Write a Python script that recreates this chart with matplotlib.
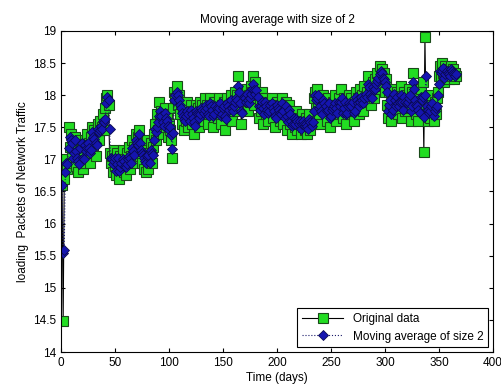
import matplotlib
matplotlib.use('Agg')
import matplotlib.pyplot as plt
import numpy as np

plt.rcParams['font.family'] = ['Liberation Sans', 'DejaVu Sans']

# daily loading values (day 1 .. 365)
traffic = [
    16.60, 14.48, 16.70, 16.90, 17.00, 16.85, 17.50, 17.20, 17.40, 17.10,
    16.95, 17.25, 17.35, 16.90, 17.15, 16.80, 17.05, 17.30, 17.20, 16.85,
    17.15, 17.30, 16.95, 17.40, 17.10, 17.25, 16.95, 17.35, 17.50, 17.20,
    17.45, 17.05, 17.40, 17.55, 17.30, 17.60, 17.45, 17.50, 17.70, 17.45,
    17.80, 17.95, 18.00, 17.85, 17.10,
    16.95, 17.05, 16.80, 17.15, 16.90, 16.75, 17.10, 16.95, 16.70, 17.05,
    16.85, 17.15, 16.80, 17.00, 16.75,
    17.10, 16.90, 17.20, 16.85, 17.05, 17.30, 16.95, 17.20, 17.40, 17.10,
    17.35, 17.45, 17.05, 17.25, 16.95,
    17.20, 16.85, 17.10, 16.80, 17.30, 16.85, 17.05, 17.25, 16.95, 17.20,
    17.40, 17.55,
    17.30, 17.70, 17.45, 17.90, 17.60, 17.75, 17.40, 17.65, 17.80, 17.50,
    17.70, 17.35, 17.55, 17.45,
    17.30, 17.02, 17.80, 18.05, 17.95, 18.15, 17.85, 18.00, 17.70, 17.90,
    17.55, 17.80, 17.45, 17.75, 17.60, 17.90, 17.50, 17.70, 17.85, 17.55,
    17.75, 17.40, 17.65, 17.85, 17.60, 17.80, 17.50, 17.90, 17.70, 17.85,
    17.60, 17.95, 17.75, 17.85, 17.55, 17.80, 17.95, 17.70, 17.85, 17.50,
    17.90, 17.75, 17.85, 17.65, 17.95, 17.80, 17.55, 17.85, 17.75, 17.90,
    17.45, 17.80, 17.95, 17.70, 17.85, 18.00, 17.60, 17.90, 17.75, 18.05,
    17.85, 18.00, 18.30, 17.80, 17.95,
    17.55, 17.90, 18.05, 17.85, 17.95, 18.10, 17.75, 18.00, 17.90, 18.15,
    18.05, 18.30, 17.85, 18.20, 17.95,
    18.00, 17.65, 17.90, 17.75, 18.05, 17.55, 17.85, 17.95, 17.70, 17.85,
    17.60, 17.90, 17.80, 17.95, 17.65, 17.85, 17.50, 17.80, 17.90, 17.70,
    17.85, 17.60, 17.80, 17.95, 17.55, 17.75, 17.90, 17.45, 17.70, 17.85,
    17.55, 17.65, 17.40, 17.70, 17.60,
    17.50, 17.75, 17.45, 17.65, 17.55, 17.40, 17.70, 17.50, 17.60, 17.45,
    17.65, 17.40, 17.55, 17.70, 17.45, 17.60, 17.55,
    17.95, 18.05, 17.80, 18.10, 17.90, 17.70, 17.95, 17.55, 17.85, 18.00,
    17.75, 17.90, 17.60, 17.95, 17.80, 17.50, 17.85, 17.70,
    17.90, 17.75, 18.00, 17.60, 17.85, 17.95, 17.70, 18.10, 17.80, 17.65,
    17.95, 17.85, 17.55, 17.90, 17.75, 18.00, 17.70, 17.95, 17.85, 17.60,
    17.90, 18.05, 17.80, 17.95, 17.70, 18.10, 17.85, 18.00, 17.75, 18.15,
    17.90, 18.05, 18.30, 17.95, 18.10, 17.85, 18.05, 18.20, 17.95, 18.25,
    18.10, 18.35, 18.20, 18.45, 18.30, 18.40, 18.15, 18.35, 18.05, 18.25,
    17.85, 17.65, 18.05, 17.80, 17.60,
    17.95, 18.10, 17.75, 17.90, 18.05, 17.70, 17.95, 17.85, 18.15, 17.65,
    17.90, 18.05, 17.75, 18.00, 17.80,
    18.10, 17.90, 17.60, 18.05, 18.35, 17.85, 18.00, 17.70, 17.95, 17.60,
    17.85, 18.10, 17.75, 18.20,
    17.12, 18.90, 17.70,
    17.95, 17.60, 17.85, 17.65, 18.00, 17.75, 17.60, 17.90, 17.70, 17.95,
    18.05, 18.30, 18.45,
    18.25, 18.50, 18.35, 18.20, 18.45, 18.30, 18.40, 18.25, 18.35, 18.45,
    18.30, 18.40, 18.25, 18.35, 18.30,
]
days = np.arange(1, len(traffic) + 1)

# moving average of size 2 (trailing window)
vals = np.array(traffic)
movavg = np.convolve(vals, [0.5, 0.5], mode='full')[:len(vals)]
movavg[0] = vals[0]

fig = plt.figure(figsize=(5.02, 3.87), dpi=100)
ax = fig.add_axes([0.1215, 0.0904, 0.8605, 0.8296])

ax.plot(days, traffic, '-s', color='black', lw=0.8, markersize=6.8,
        markerfacecolor='#22dd22', markeredgecolor='#1a4a1a', markeredgewidth=0.8,
        label='Original data')
ax.plot(days, movavg, ':D', color='#1a1a6a', lw=0.8, markersize=5.2,
        markerfacecolor='#1515b0', markeredgecolor='#0a0a50', markeredgewidth=0.6,
        label='Moving average of size 2')

ax.set_xlim(0, 400)
ax.set_ylim(14, 19)
ax.set_xticks(np.arange(0, 401, 50))
ax.set_yticks(np.arange(14, 19.01, 0.5))
ax.set_yticklabels(['14', '14.5', '15', '15.5', '16', '16.5', '17', '17.5', '18', '18.5', '19'])
ax.tick_params(direction='in', top=True, right=True, labelsize=8.5, length=3)
for s in ax.spines.values():
    s.set_linewidth(0.8)

ax.set_title('Moving average with size of 2', fontsize=8.5, pad=6)
ax.set_xlabel('Time (days)', fontsize=8.5, labelpad=2)
ax.set_ylabel('loading  Packets of Network Traffic', fontsize=8.5, labelpad=3)

leg = ax.legend(loc='lower right', fontsize=8.5, fancybox=False, framealpha=1,
                edgecolor='black', borderaxespad=0.4, handlelength=3.5)
leg.get_frame().set_linewidth(0.8)

fig.savefig('out.png', dpi=100)
